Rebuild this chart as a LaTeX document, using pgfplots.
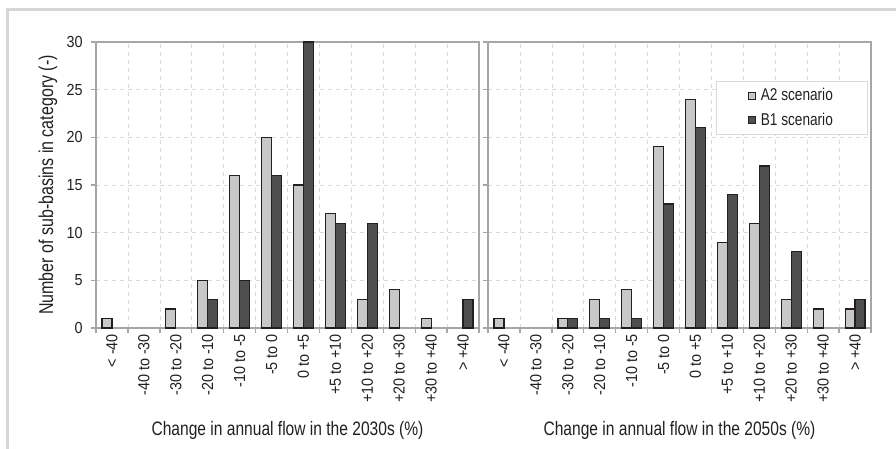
\documentclass[border=0pt]{standalone}
\usepackage{fontspec}
\setmainfont{Liberation Sans}[FakeStretch=0.9]
\newfontfamily\condfont{Liberation Sans}[FakeStretch=0.8]
\usepackage{pgfplots}
\pgfplotsset{compat=1.18}
\definecolor{ltbar}{HTML}{C8C8C8}
\definecolor{dkbar}{HTML}{4F4F4F}
\definecolor{axisgray}{HTML}{A6A6A6}
\definecolor{gridgray}{HTML}{D9D9D9}
\definecolor{framegray}{HTML}{D6D6D6}
\definecolor{textc}{HTML}{231F20}
\pgfplotsset{
  mystyle/.style={
    scale only axis, width=287.25pt, height=214.5pt,
    xmin=-0.5, xmax=11.5, ymin=0, ymax=30,
    ytick={0,5,...,30},
    /pgf/number format/assume math mode=true,
    ymajorgrids,
    grid style={dashed, gridgray, line width=0.5pt},
    axis line style={axisgray, line width=1pt},
    xtick={-0.5,0.5,...,11.5},
    xticklabels={},
    xmajorgrids,
    x tick style={axisgray, line width=1pt},
    y tick style={axisgray, line width=1pt},
    major tick length=4pt,
    tick align=outside,
    xtick pos=bottom, ytick pos=left,
    extra x ticks={0,...,11},
    extra x tick labels={{< -40},{-40 to -30},{-30 to -20},{-20 to -10},{-10 to -5},{-5 to 0},{0 to +5},{+5 to +10},{+10 to +20},{+20 to +30},{+30 to +40},{> +40}},
    extra x tick style={grid=none, major tick length=0pt, x tick style={draw=none},
      x tick label style={rotate=90, anchor=east, font=\fontsize{12}{14}\selectfont, text=textc, xshift=-1pt}},
    y tick label style={font=\fontsize{12}{14}\selectfont, text=textc, xshift=-2.5pt},
    label style={font=\condfont\fontsize{14.6}{17}\selectfont, text=textc},
    xlabel style={at={(axis description cs:0.5,0)}, anchor=center, yshift=-77pt},
    clip=false,
  },
  a2/.style={ybar, bar width=0.31, bar shift=-0.155, fill=ltbar, draw=textc, line width=0.9pt,
    legend image code/.code={\draw[fill=ltbar, draw=textc, line width=0.8pt] (0pt,-2.6pt) rectangle (5.2pt,2.6pt); \path (6.5pt,0pt);}},
  b1/.style={ybar, bar width=0.31, bar shift=0.155, fill=dkbar, draw=textc, line width=0.9pt,
    legend image code/.code={\draw[fill=dkbar, draw=textc, line width=0.8pt] (0pt,-2.6pt) rectangle (5.2pt,2.6pt); \path (6.5pt,0pt);}},
}
\begin{document}
\begin{tikzpicture}
\useasboundingbox (0,0) rectangle (672pt,336.75pt);
\draw[framegray, line width=2.25pt] (5.6pt,-5pt) -- (5.6pt,329.6pt) -- (680pt,329.6pt);
\begin{axis}[mystyle, at={(72pt,90.75pt)}, anchor=south west,
  xlabel={Change in annual flow in the 2030s (\%)},
  ylabel={Number of sub-basins in category (-)},
  ylabel style={at={(axis description cs:0,0.5)}, anchor=center, yshift=36pt, font=\condfont\fontsize{15}{17}\selectfont}]
\addplot[a2] coordinates {(0,1)(2,2)(3,5)(4,16)(5,20)(6,15)(7,12)(8,3)(9,4)(10,1)};
\addplot[b1] coordinates {(3,3)(4,5)(5,16)(6,30)(7,11)(8,11)(11,3)};
\end{axis}
\begin{axis}[mystyle, at={(366pt,90.75pt)}, anchor=south west,
  yticklabels={},
  xlabel={Change in annual flow in the 2050s (\%)},
  legend style={at={(0.992,0.864)}, anchor=north east, draw=gridgray, fill=white,
    font=\condfont\fontsize{12.8}{15}\selectfont, text=textc, inner xsep=24pt, inner ysep=3.5pt, row sep=3.5pt, line width=0.6pt},
  legend cell align=left]
\addplot[a2] coordinates {(0,1)(2,1)(3,3)(4,4)(5,19)(6,24)(7,9)(8,11)(9,3)(10,2)(11,2)};
\addplot[b1] coordinates {(2,1)(3,1)(4,1)(5,13)(6,21)(7,14)(8,17)(9,8)(11,3)};
\legend{A2 scenario, B1 scenario}
\end{axis}
\end{tikzpicture}
\end{document}
